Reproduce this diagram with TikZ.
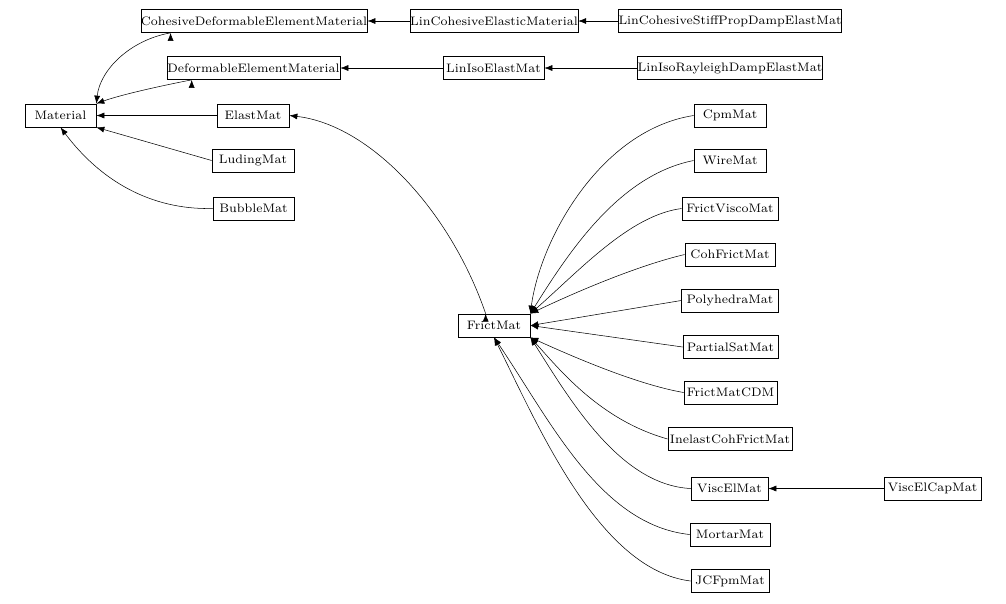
\documentclass[tikz,border=0pt]{standalone}
\usetikzlibrary{arrows.meta}
\begin{document}
\begin{tikzpicture}[x=0.02cm,y=-0.02cm,
 box/.style={draw,rectangle,inner sep=0pt,minimum height=0.46cm,font=\fontsize{7}{8}\selectfont},
 arr/.style={-{Latex[length=0.16cm,width=0.12cm]},line width=0.3pt}]
\useasboundingbox (0,0) rectangle (1006,603);
\node[box,minimum width=1.42cm] (mat) at (60.5,115.5) {Material};
\node[box,minimum width=4.36cm] (cdem) at (254,21) {CohesiveDeformableElementMaterial};
\node[box,minimum width=3.32cm] (lce) at (494,21) {LinCohesiveElasticMaterial};
\node[box,minimum width=4.24cm] (lcs) at (730,21) {LinCohesiveStiffPropDampElastMat};
\node[box,minimum width=3.46cm] (dem) at (253.5,68) {DeformableElementMaterial};
\node[box,minimum width=2.02cm] (lie) at (493.5,68) {LinIsoElastMat};
\node[box,minimum width=3.6cm] (lir) at (730,68) {LinIsoRayleighDampElastMat};
\node[box,minimum width=1.44cm] (elast) at (253,115.5) {ElastMat};
\node[box,minimum width=1.64cm] (lud) at (253,160.5) {LudingMat};
\node[box,minimum width=1.62cm] (bub) at (253.5,208.5) {BubbleMat};
\node[box,minimum width=1.44cm] (fm) at (494,325.5) {FrictMat};
\node[box,minimum width=1.44cm] (cpm) at (730,115.5) {CpmMat};
\node[box,minimum width=1.44cm] (wire) at (730,160.5) {WireMat};
\node[box,minimum width=1.92cm] (fv) at (730,208.5) {FrictViscoMat};
\node[box,minimum width=1.8cm] (cfm) at (730,254.5) {CohFrictMat};
\node[box,minimum width=1.94cm] (poly) at (730,300.5) {PolyhedraMat};
\node[box,minimum width=1.9cm] (psat) at (730.5,347) {PartialSatMat};
\node[box,minimum width=1.86cm] (cdm) at (730.5,392.5) {FrictMatCDM};
\node[box,minimum width=2.48cm] (icf) at (730,439) {InelastCohFrictMat};
\node[box,minimum width=1.54cm] (vem) at (729.5,488.5) {ViscElMat};
\node[box,minimum width=1.94cm] (vec) at (932.5,488.5) {ViscElCapMat};
\node[box,minimum width=1.6cm] (mor) at (730,534.5) {MortarMat};
\node[box,minimum width=1.56cm] (jcf) at (730,581) {JCFpmMat};

\draw[arr] (lce) -- (cdem);
\draw[arr] (lcs) -- (lce);
\draw[arr] (lie) -- (dem);
\draw[arr] (lir) -- (lie);
\draw[arr] (vec) -- (vem);
\draw[arr] (elast) -- (mat);
\draw[arr] (cdem.south west) ++(30,0) coordinate (c1);
\draw[arr] (c1) .. controls (130,40) and (100,70) .. (mat.north east);
\draw[arr] (dem.south west) ++(25,0) coordinate (c2);
\draw[arr] (c2) .. controls (160,86) and (120,95) .. (mat.north east);
\draw[arr] (lud.west) to (mat.south east);
\draw[arr] (bub.west) .. controls (150,210) and (100,180) .. (mat.south);
\draw[arr] (fm.north west) ++(28,0) coordinate (c3);
\draw[arr] (c3) .. controls (450,210) and (370,125) .. (elast.east);
\draw[arr] (cpm.west) .. controls (600,130) and (540,240) .. (fm.north east);
\draw[arr] (wire.west) .. controls (620,175) and (570,250) .. (fm.north east);
\draw[arr] (fv.west) .. controls (630,215) and (580,270) .. (fm.north east);
\draw[arr] (cfm.west) .. controls (640,265) and (580,290) .. (fm.north east);
\draw[arr] (poly.west) -- (fm.east);
\draw[arr] (psat.west) -- (fm.east);
\draw[arr] (cdm.west) .. controls (640,385) and (580,360) .. (fm.south east);
\draw[arr] (icf.west) .. controls (600,420) and (560,370) .. (fm.south east);
\draw[arr] (vem.west) .. controls (620,485) and (570,400) .. (fm.south east);
\draw[arr] (mor.west) .. controls (600,525) and (550,420) .. (fm.south);
\draw[arr] (jcf.west) .. controls (600,570) and (540,430) .. (fm.south);
\end{tikzpicture}
\end{document}
